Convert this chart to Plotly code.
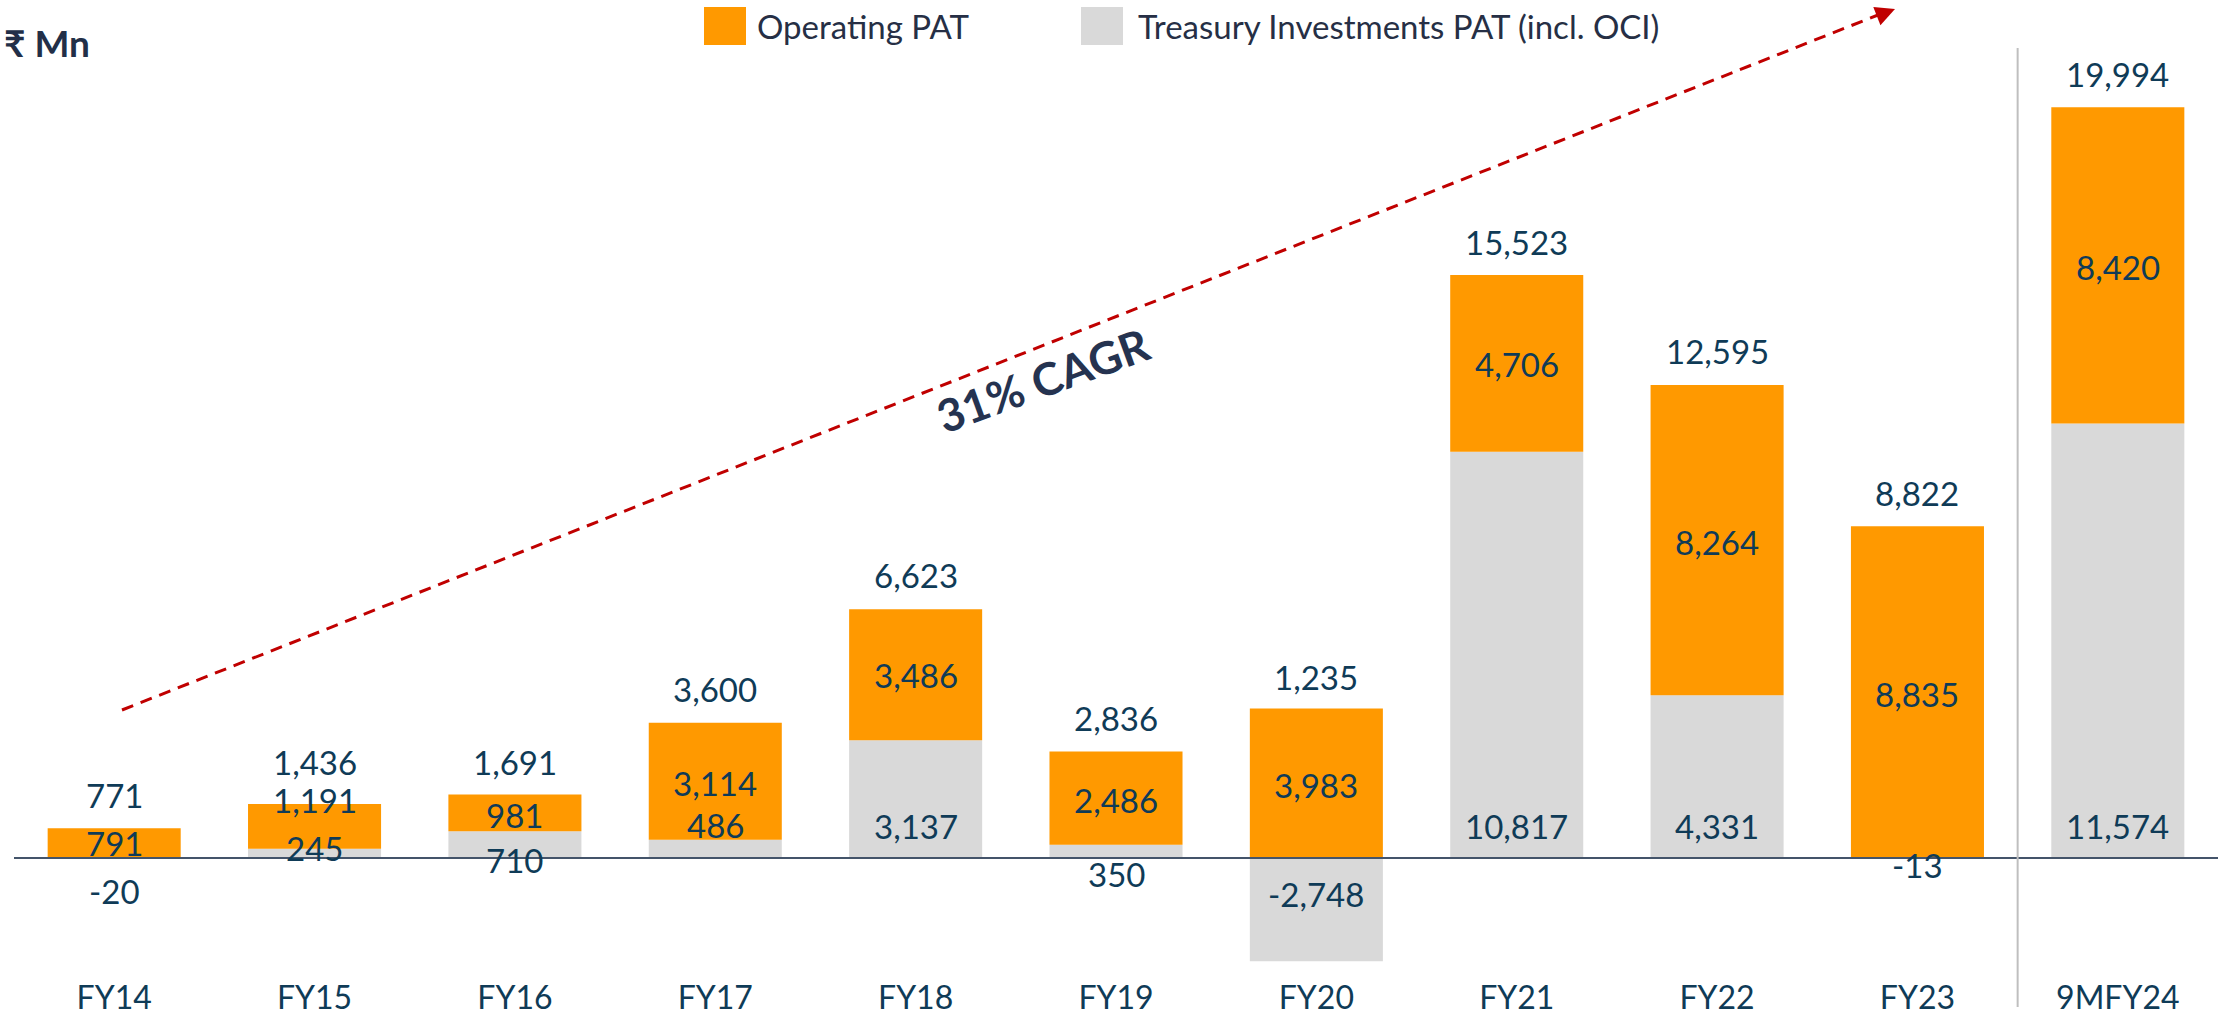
import plotly.graph_objects as go

# ---------------- data ----------------
categories = ["FY14", "FY15", "FY16", "FY17", "FY18", "FY19", "FY20", "FY21", "FY22", "FY23", "9MFY24"]
treasury_pat = [-20, 245, 710, 486, 3137, 350, -2748, 10817, 4331, -13, 11574]
operating_pat = [791, 1191, 981, 3114, 3486, 2486, 3983, 4706, 8264, 8835, 8420]
total_pat = [771, 1436, 1691, 3600, 6623, 2836, 1235, 15523, 12595, 8822, 19994]

# label pixel offsets (style only)
total_shift = [33, 42, 33, 34, 34, 34, 31, 33, 34, 33, 33]
oper_shift = [0, 26, -2, -2, 0, -2, -2, -1, -2, -2, -2]
treas_shift = [-33, 10, -2, 33, 32, -16, -36, 32, 32, -7, 32]

ORANGE = "#FF9900"
GRAY = "#D9D9D9"
LABEL = "#0F3B57"
FONT = "Lato"

W, H = 2221, 1018
PL, PR, PT, PB = 14, 2218, 40, 970      # plot area in pixels
ZERO_PX = 858
SCALE = 0.03755                          # px per unit
y_top = (ZERO_PX - PT) / SCALE
y_bot = -(PB - ZERO_PX) / SCALE


def px2x(px):
    return (px - PL) / (PR - PL)


def px2y(py):
    return (PB - py) / (PB - PT)


fig = go.Figure()
fig.add_trace(go.Bar(x=categories, y=treasury_pat, name="Treasury Investments PAT (incl. OCI)",
                     marker=dict(color=GRAY, line=dict(width=0)), showlegend=False))
fig.add_trace(go.Bar(x=categories, y=operating_pat, name="Operating PAT",
                     marker=dict(color=ORANGE, line=dict(width=0)), showlegend=False))

ann = []
for i, c in enumerate(categories):
    t = treasury_pat[i]
    o = operating_pat[i]
    pos_base = max(t, 0)
    pos_top = pos_base + o
    # total
    ann.append(dict(x=c, y=pos_top, yshift=total_shift[i], text=f"{total_pat[i]:,}",
                    showarrow=False, yanchor="middle",
                    font=dict(family=FONT, size=33, color=LABEL)))
    # operating (center of segment)
    ann.append(dict(x=c, y=pos_base + o / 2, yshift=oper_shift[i], text=f"{o:,}",
                    showarrow=False, yanchor="middle",
                    font=dict(family=FONT, size=33, color=LABEL)))
    # treasury (inside base)
    ann.append(dict(x=c, y=0, yshift=treas_shift[i], text=f"{t:,}",
                    showarrow=False, yanchor="middle",
                    font=dict(family=FONT, size=33, color=LABEL)))

# CAGR text
ann.append(dict(x=px2x(1043), y=px2y(314), xref="paper", yref="paper", text="<b>31% CAGR</b>",
                showarrow=False, textangle=-20,
                font=dict(family=FONT, size=45, color="#253350")))
# arrow head
ann.append(dict(x=px2x(1895), y=px2y(9), xref="paper", yref="paper", text="",
                showarrow=True, ax=-19, ay=7.5, arrowhead=2, arrowsize=1.3, arrowwidth=3,
                arrowcolor="#C00000", standoff=0))
# unit label
ann.append(dict(x=px2x(2), y=px2y(42), xref="paper", yref="paper", text="<b>₹ Mn</b>",
                showarrow=False, xanchor="left", yanchor="middle",
                font=dict(family=FONT, size=37, color="#222F48")))
# legend texts
ann.append(dict(x=px2x(755), y=px2y(26), xref="paper", yref="paper", text="Operating PAT",
                showarrow=False, xanchor="left", yanchor="middle",
                font=dict(family=FONT, size=33, color="#262F45")))
ann.append(dict(x=px2x(1136), y=px2y(26), xref="paper", yref="paper",
                text="Treasury Investments PAT (incl. OCI)",
                showarrow=False, xanchor="left", yanchor="middle",
                font=dict(family=FONT, size=33, color="#262F45")))

shapes = [
    # zero line
    dict(type="line", xref="paper", yref="y", x0=0, x1=1, y0=0, y1=0,
         line=dict(color="#44546A", width=2), layer="above"),
    # separator
    dict(type="line", xref="x", yref="paper", x0=9.5, x1=9.5, y0=px2y(1007), y1=px2y(48),
         line=dict(color="#BFBFBF", width=2), layer="above"),
    # dashed CAGR line
    dict(type="line", xref="paper", yref="paper", x0=px2x(122), y0=px2y(710),
         x1=px2x(1878), y1=px2y(15), line=dict(color="#C00000", width=3, dash="12px,8px")),
    # legend squares
    dict(type="rect", xref="paper", yref="paper", x0=px2x(704), x1=px2x(746),
         y0=px2y(45), y1=px2y(7), fillcolor=ORANGE, line=dict(width=0)),
    dict(type="rect", xref="paper", yref="paper", x0=px2x(1081), x1=px2x(1123),
         y0=px2y(45), y1=px2y(7), fillcolor=GRAY, line=dict(width=0)),
]

fig.update_layout(
    width=W, height=H,
    barmode="relative", bargap=0.336,
    plot_bgcolor="white", paper_bgcolor="white",
    margin=dict(l=PL, r=W - PR, t=PT, b=H - PB, autoexpand=False),
    xaxis=dict(type="category", range=[-0.5, 10.5], showgrid=False, zeroline=False,
               showline=False, ticks="", ticklabelstandoff=6, automargin=False,
               tickfont=dict(family=FONT, size=32, color=LABEL)),
    yaxis=dict(range=[y_bot, y_top], showgrid=False, zeroline=False, showticklabels=False,
               showline=False, ticks="", automargin=False),
    annotations=ann, shapes=shapes, showlegend=False,
)

fig.write_html("out.html", post_script="document.body.style.margin='0';",
               config={"displayModeBar": False})
